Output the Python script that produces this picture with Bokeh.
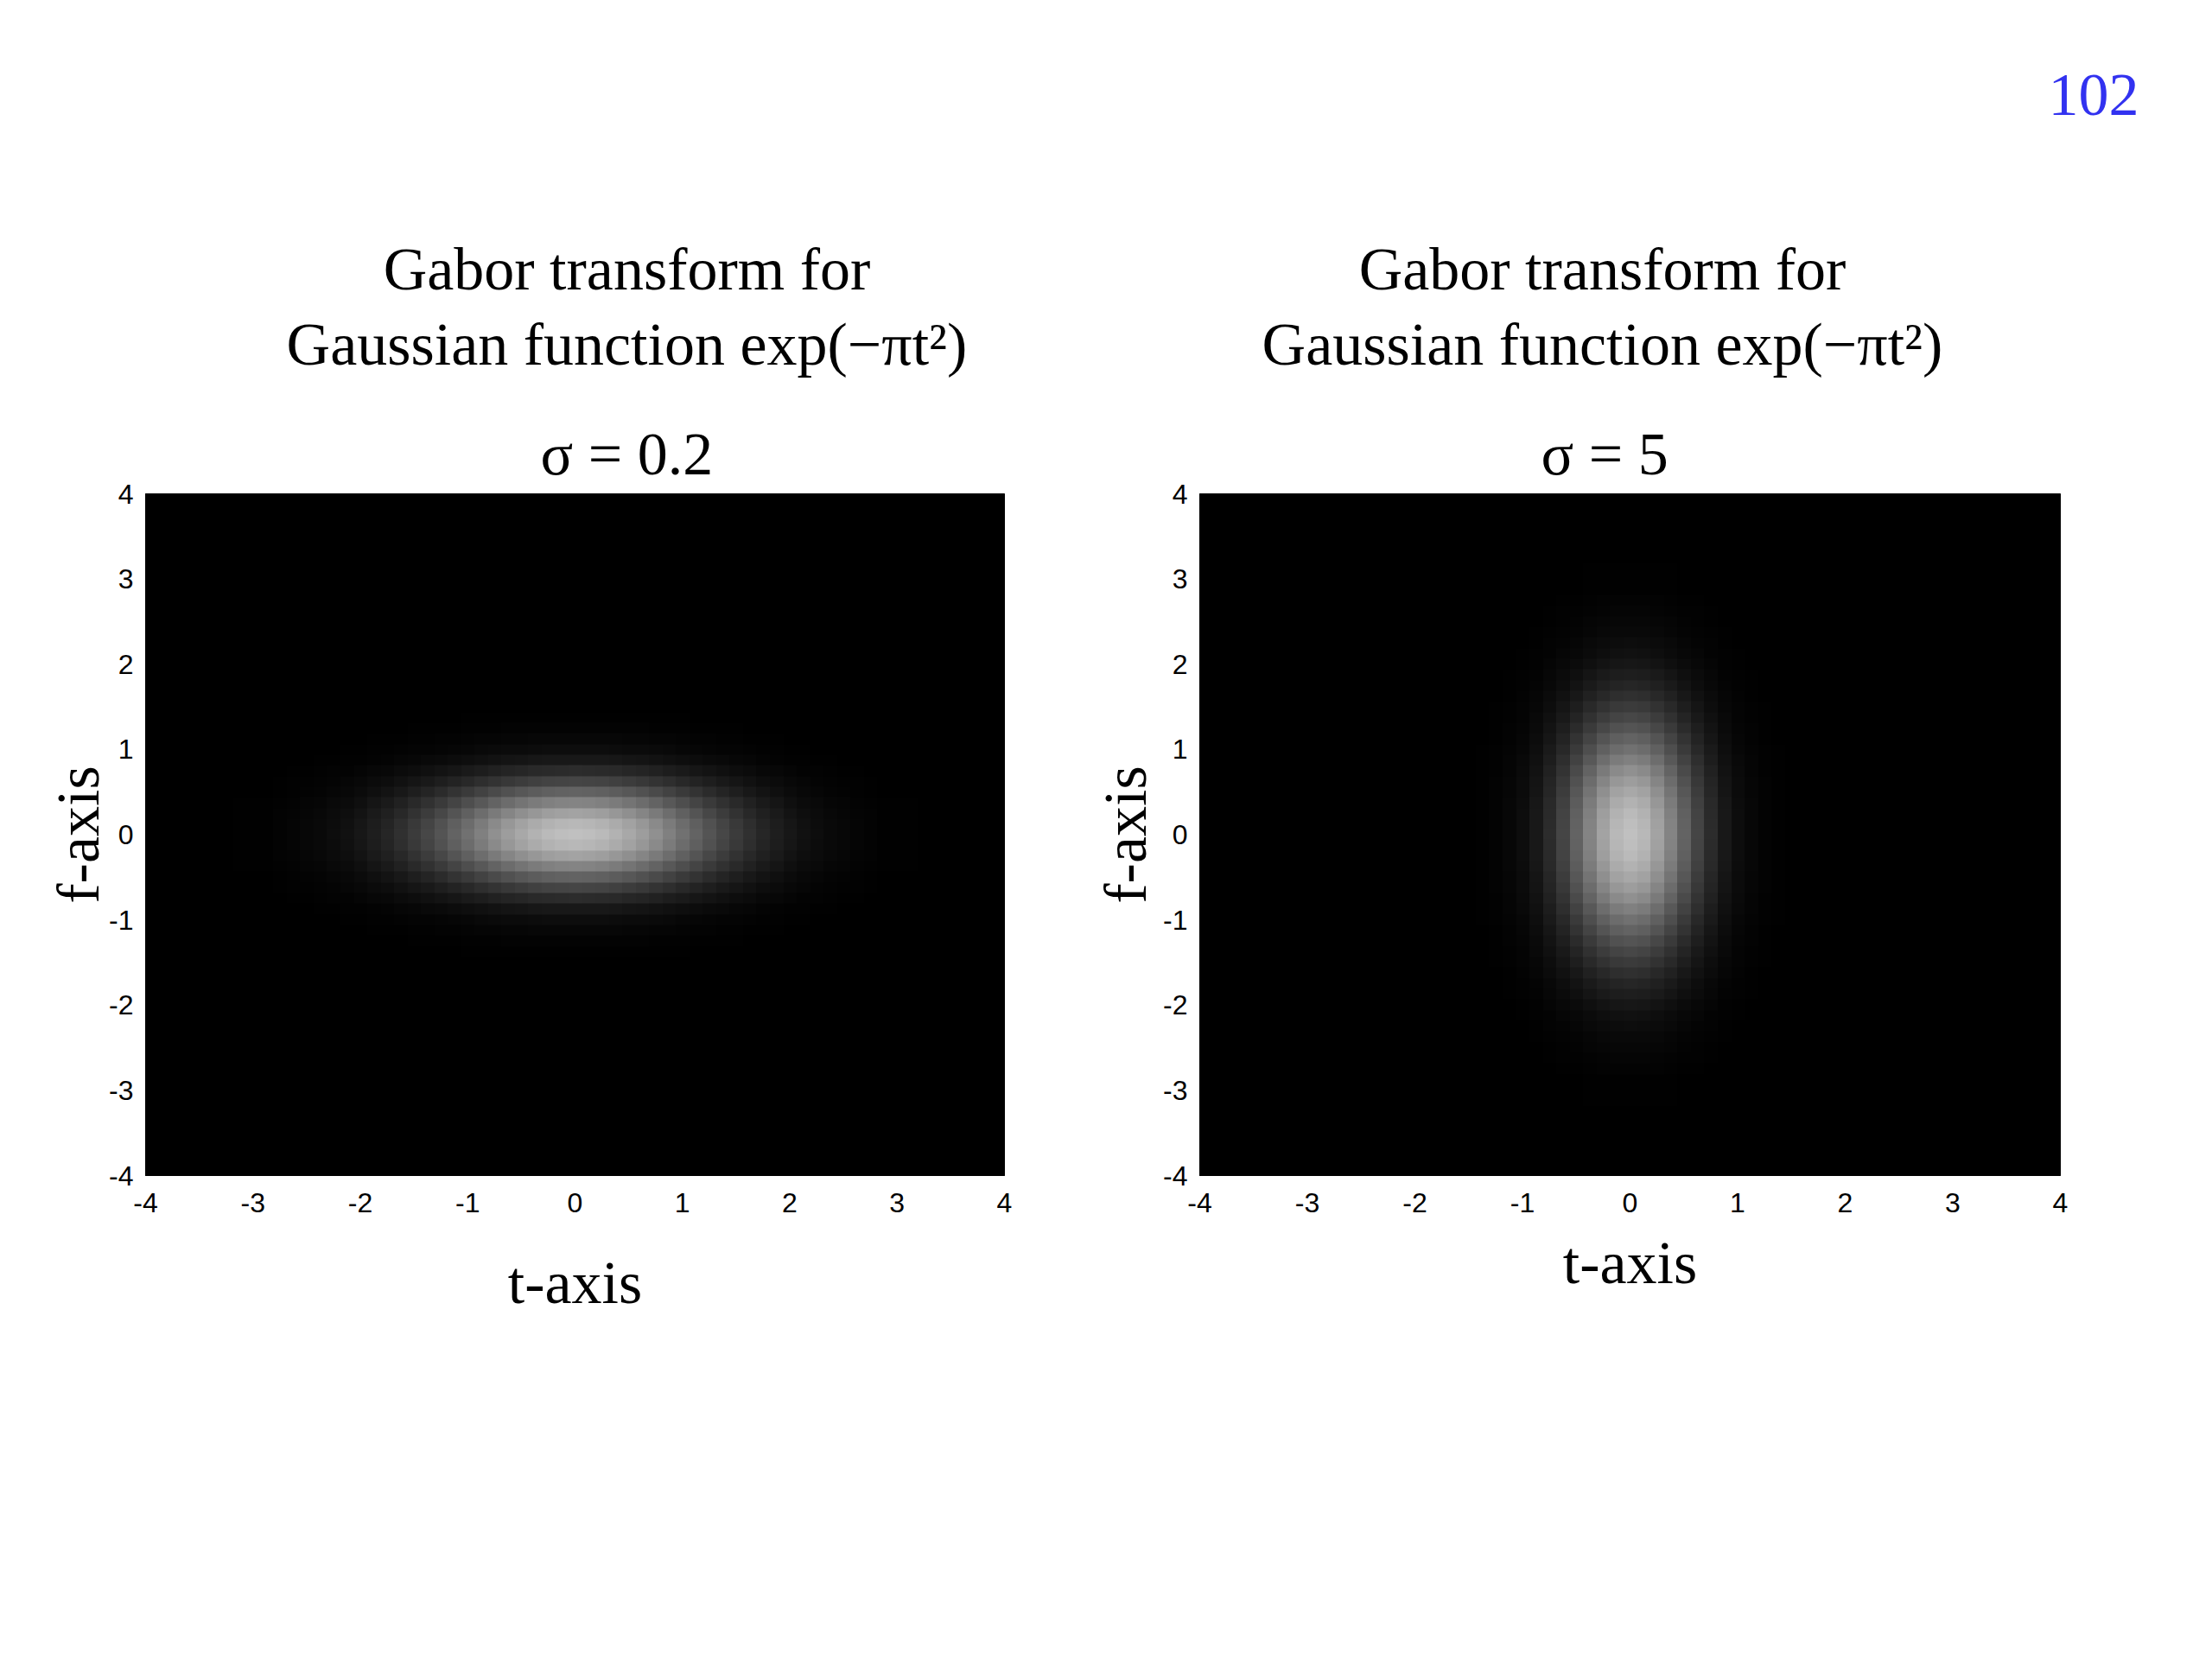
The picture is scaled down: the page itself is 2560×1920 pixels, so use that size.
import numpy as np
from bokeh.plotting import figure
from bokeh.models import Label, FixedTicker, LinearColorMapper, Range1d, Title
from bokeh.layouts import row, column
from bokeh.embed import file_html
from bokeh.resources import INLINE

# ---------------- data ----------------
# sampled brightness profiles (relative, peak = 1), samples every 0.125 from -4 to 4
wide_profile = [0.00, 0.00, 0.00, 0.00, 0.00, 0.00, 0.00, 0.01, 0.01, 0.01, 0.02, 0.03,
                0.04, 0.05, 0.07, 0.09, 0.12, 0.16, 0.20, 0.25, 0.31, 0.37, 0.44, 0.52,
                0.59, 0.67, 0.75, 0.82, 0.88, 0.93, 0.97, 0.99, 1.00, 0.99, 0.97, 0.93,
                0.88, 0.82, 0.75, 0.67, 0.59, 0.52, 0.44, 0.37, 0.31, 0.25, 0.20, 0.16,
                0.12, 0.09, 0.07, 0.05, 0.04, 0.03, 0.02, 0.01, 0.01, 0.01, 0.00, 0.00,
                0.00, 0.00, 0.00, 0.00, 0.00]
narrow_profile = [0.00] * 21 + [0.01, 0.02, 0.04, 0.07, 0.13, 0.23, 0.36, 0.52, 0.69, 0.85, 0.96,
                                1.00,
                                0.96, 0.85, 0.69, 0.52, 0.36, 0.23, 0.13, 0.07, 0.04, 0.02, 0.01] + [0.00] * 21
peak_level = 0.75

tick_values = [-4, -3, -2, -1, 0, 1, 2, 3, 4]
tick_labels = ["-4", "-3", "-2", "-1", "0", "1", "2", "3", "4"]

title_line1 = "Gabor transform for"
title_line2 = "Gaussian function exp(\u2212\u03c0t\u00b2)"
sigma_labels = ["\u03c3 = 0.2", "\u03c3 = 5"]
page_number = "102"

# ---------------- drawing ----------------
PAGE_W = 2560
HEAD_H = 471
PLOT_H = 1340
FRAME_TOP = 100
FRAME_H = 789
gray_palette = ["#%02x%02x%02x" % (v, v, v) for v in range(256)]
SERIF = "Liberation Serif"
SANS = "Liberation Sans"

# header canvas holding the slide texts (coordinates in page pixels, y downward)
head = figure(width=PAGE_W, height=HEAD_H, x_range=Range1d(0, PAGE_W), y_range=Range1d(HEAD_H, 0),
              x_axis_type=None, y_axis_type=None, output_backend="svg", toolbar_location=None,
              title=None, min_border=0, outline_line_color=None,
              background_fill_color="white", border_fill_color="white")
head.grid.visible = False


def head_text(x, y, txt, align="center", color="black"):
    head.add_layout(Label(x=x, y=y, text=txt, text_align=align, text_baseline="alphabetic",
                          text_font=SERIF, text_font_size="70px", text_color=color))


for cx in (725, 1854):
    head_text(cx, 311, title_line1)
    head_text(cx, 398, title_line2)
head_text(2475, 109, page_number, align="right", color="#3232F0")


def make_panel(width, left, right, f_prof, t_prof, sigma_text, sigma_offset):
    p = figure(width=width, height=PLOT_H, x_range=(-4, 4), y_range=(-4, 4),
               output_backend="svg", toolbar_location=None, title=None,
               min_border_left=left, min_border_right=right,
               min_border_top=FRAME_TOP, min_border_bottom=PLOT_H - FRAME_TOP - FRAME_H,
               background_fill_color="black", border_fill_color="white",
               outline_line_color="black")
    p.grid.visible = False
    p.add_layout(Title(text=sigma_text, align="left", offset=sigma_offset, standoff=16,
                       text_font=SERIF, text_font_size="70px", text_font_style="normal",
                       text_color="black"), "above")
    z = peak_level * np.outer(np.array(f_prof), np.array(t_prof))
    n = len(t_prof)
    step = 8.0 / (n - 1)
    mapper = LinearColorMapper(palette=gray_palette, low=0, high=1)
    p.image(image=[z], x=-4 - step / 2, y=-4 - step / 2, dw=8 + step, dh=8 + step,
            color_mapper=mapper)

    for ax in (p.xaxis[0], p.yaxis[0]):
        ax.ticker = FixedTicker(ticks=tick_values)
        ax.major_label_overrides = {v: s for v, s in zip(tick_values, tick_labels)}
        ax.major_tick_in = 0
        ax.major_tick_out = 0
        ax.minor_tick_line_color = None
        ax.axis_line_color = "black"
        ax.major_label_text_font = SANS
        ax.major_label_text_font_size = "32px"
        ax.major_label_text_color = "black"
        ax.axis_label_text_font = SERIF
        ax.axis_label_text_font_size = "70px"
        ax.axis_label_text_font_style = "normal"
        ax.axis_label_text_color = "black"
    p.xaxis[0].axis_label = "t-axis"
    p.yaxis[0].axis_label = "f-axis"
    p.xaxis[0].major_label_standoff = 20
    p.yaxis[0].major_label_standoff = 14
    return p


p1 = make_panel(1250, 168, 88, narrow_profile, wide_profile, sigma_labels[0], 457)
p1.xaxis[0].axis_label_standoff = 40
p1.yaxis[0].axis_label_standoff = -6
p2 = make_panel(1310, 138, 176, wide_profile, narrow_profile, sigma_labels[1], 395)
p2.xaxis[0].axis_label_standoff = 17
p2.yaxis[0].axis_label_standoff = 2

layout = column(head, row(p1, p2))
open("out.html", "w").write(file_html(layout, INLINE))
